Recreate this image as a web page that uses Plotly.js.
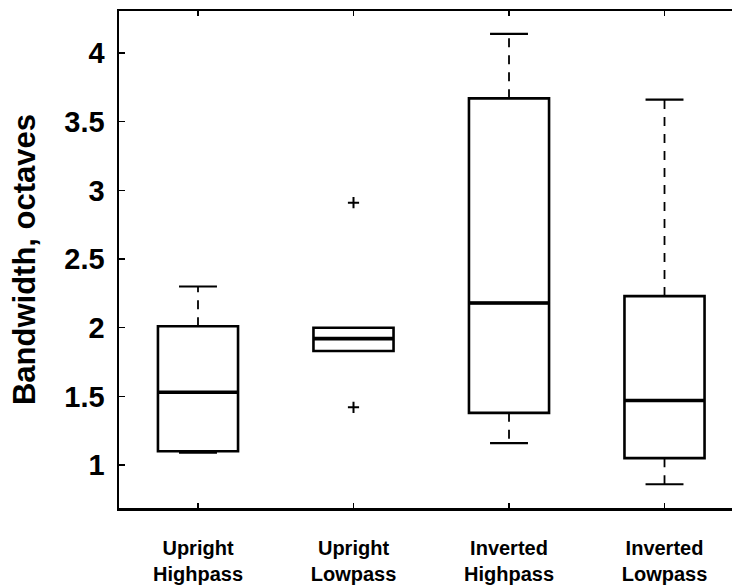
<!DOCTYPE html>
<html>
<head>
<meta charset="utf-8">
<script src="https://cdn.plot.ly/plotly-3.0.1.min.js"></script>
<style>
  html, body { margin: 0; padding: 0; background: #fff; }
  #chart { width: 732px; height: 588px; }
</style>
</head>
<body>
<div id="chart"></div>
<script>
// Bandwidth (octaves) per stimulus condition, summarised as box statistics
const categories = ['Upright<br>Highpass', 'Upright<br>Lowpass', 'Inverted<br>Highpass', 'Inverted<br>Lowpass'];
const lowerWhisker = [1.09, 1.83, 1.16, 0.86];
const q1 = [1.10, 1.83, 1.38, 1.05];
const median = [1.53, 1.92, 2.18, 1.47];
const q3 = [2.01, 2.00, 3.67, 2.23];
const upperWhisker = [2.30, 2.00, 4.14, 3.66];
// outlying observations: [category index, value]
const outlierCat = [1, 1];
const outlierVal = [2.91, 1.42];
const yTicks = [1, 1.5, 2, 2.5, 3, 3.5, 4];

const pos = categories.map((_, i) => i + 1);
const boxWidth = 0.515;
const capHalf = 0.122;
const ink = '#000';

const traces = [];

// boxes (whiskers drawn separately as dashed lines)
traces.push({
  type: 'box',
  x: pos,
  q1: q1,
  median: median,
  q3: q3,
  lowerfence: q1,
  upperfence: q3,
  width: boxWidth,
  whiskerwidth: 0,
  fillcolor: 'rgba(0,0,0,0)',
  line: { color: ink, width: 2.6 },
  hoverinfo: 'skip',
  showlegend: false
});

// heavier median bars across each box
const mx = [], my = [];
pos.forEach((p, i) => {
  mx.push(p - boxWidth / 2, p + boxWidth / 2, null);
  my.push(median[i], median[i], null);
});
traces.push({
  type: 'scatter', mode: 'lines', x: mx, y: my,
  line: { color: ink, width: 3.6 },
  hoverinfo: 'skip', showlegend: false
});

// dashed whiskers and solid caps
const wx = [], wy = [], cx = [], cy = [];
pos.forEach((p, i) => {
  if (upperWhisker[i] > q3[i]) {
    wx.push(p, p, null); wy.push(q3[i], upperWhisker[i], null);
    cx.push(p - capHalf, p + capHalf, null); cy.push(upperWhisker[i], upperWhisker[i], null);
  }
  if (lowerWhisker[i] < q1[i]) {
    wx.push(p, p, null); wy.push(q1[i], lowerWhisker[i], null);
    cx.push(p - capHalf, p + capHalf, null); cy.push(lowerWhisker[i], lowerWhisker[i], null);
  }
});
traces.push({
  type: 'scatter', mode: 'lines', x: wx, y: wy,
  line: { color: ink, width: 1.8, dash: '9px,8px' },
  hoverinfo: 'skip', showlegend: false
});
traces.push({
  type: 'scatter', mode: 'lines', x: cx, y: cy,
  line: { color: ink, width: 2.2 },
  hoverinfo: 'skip', showlegend: false
});

// outliers
traces.push({
  type: 'scatter', mode: 'markers',
  x: outlierCat.map(i => pos[i]), y: outlierVal,
  marker: { symbol: 'cross-thin', size: 8, line: { color: ink, width: 2 } },
  hoverinfo: 'skip', showlegend: false
});

const font = { family: '"Liberation Sans", Arial, sans-serif', color: ink, weight: 'bold' };

const layout = {
  width: 732,
  height: 588,
  margin: { l: 119, r: 0, t: 11, b: 80, pad: 0 },
  paper_bgcolor: '#fff',
  plot_bgcolor: '#fff',
  showlegend: false,
  xaxis: {
    range: [0.492, 4.434],
    tickvals: pos,
    ticktext: categories,
    ticks: 'inside',
    ticklen: 5,
    tickwidth: 1.5,
    tickcolor: ink,
    showline: true,
    linecolor: ink,
    linewidth: 2.5,
    mirror: 'allticks',
    showgrid: false,
    zeroline: false,
    ticklabelstandoff: 20,
    tickfont: Object.assign({}, font, { size: 20 }),
    fixedrange: true
  },
  yaxis: {
    range: [0.687, 4.306],
    tickvals: yTicks,
    ticktext: yTicks.map(String),
    ticks: 'inside',
    ticklen: 6,
    tickwidth: 1.5,
    tickcolor: ink,
    showline: true,
    linecolor: ink,
    linewidth: 2.5,
    showgrid: false,
    zeroline: false,
    ticklabelstandoff: 6,
    tickfont: Object.assign({}, font, { size: 29 }),
    title: { text: 'Bandwidth, octaves', font: Object.assign({}, font, { size: 31 }), standoff: 20 },
    fixedrange: true
  }
};

Plotly.newPlot('chart', traces, layout, { staticPlot: true, displayModeBar: false });
</script>
</body>
</html>
